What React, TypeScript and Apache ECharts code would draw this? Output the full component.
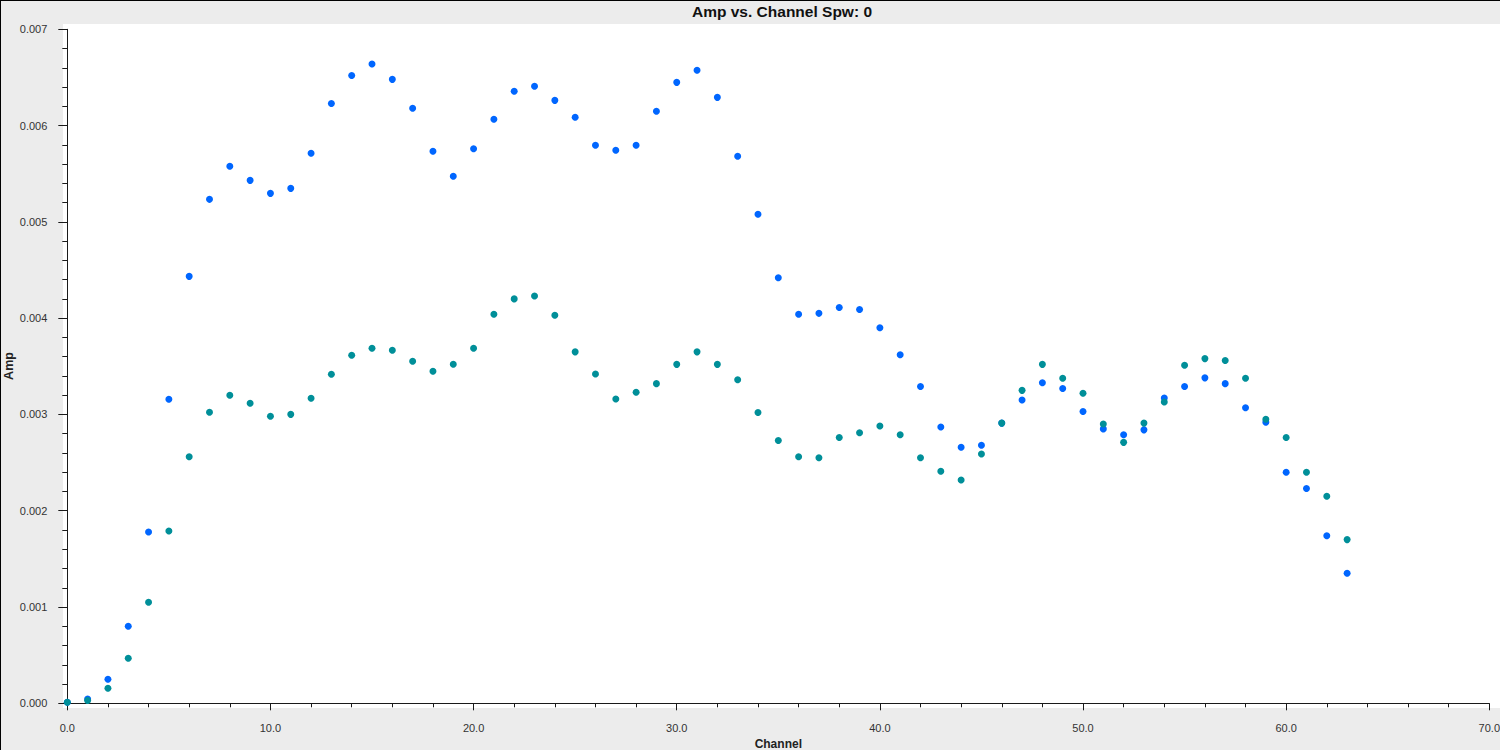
import React, { useEffect, useRef } from "react";
import * as echarts from "echarts";

const channels: number[] = Array.from({ length: 64 }, (_, i) => i);

const ampBlue: number[] = [
  0.00001, 0.000045, 0.000249, 0.0008, 0.001779, 0.003157, 0.004434, 0.005234,
  0.005577, 0.005431, 0.005296, 0.005348, 0.005712, 0.00623, 0.00652, 0.00664,
  0.00648, 0.00618, 0.005733, 0.005473, 0.00576, 0.006065, 0.006356, 0.006408,
  0.006262, 0.006086, 0.005795, 0.005743, 0.005795, 0.006148, 0.006449, 0.006574,
  0.006293, 0.005681, 0.00508, 0.00442, 0.00404, 0.00405, 0.00411, 0.00409,
  0.0039, 0.00362, 0.00329, 0.00287, 0.00266, 0.00268, 0.00291, 0.00315,
  0.00333, 0.00327, 0.00303, 0.00285, 0.00279, 0.00284, 0.00317, 0.00329,
  0.00338, 0.00332, 0.00307, 0.00292, 0.0024, 0.00223, 0.00174, 0.00135,
];

const ampTeal: number[] = [
  0.00001, 0.00003, 0.000156, 0.000467, 0.001049, 0.00179, 0.00256, 0.003022,
  0.003199, 0.003116, 0.002981, 0.003001, 0.003168, 0.003417, 0.003614, 0.003687,
  0.003666, 0.003552, 0.003448, 0.003521, 0.003687, 0.00404, 0.0042, 0.00423,
  0.00403, 0.00365, 0.00342, 0.00316, 0.00323, 0.00332, 0.00352, 0.00365,
  0.00352, 0.00336, 0.00302, 0.00273, 0.00256, 0.00255, 0.00276, 0.00281,
  0.00288, 0.00279, 0.00255, 0.00241, 0.00232, 0.00259, 0.00291, 0.00325,
  0.00352, 0.003375, 0.00322, 0.0029, 0.00271, 0.00291, 0.00313, 0.00351,
  0.00358, 0.00356, 0.003375, 0.00295, 0.00276, 0.0024, 0.00215, 0.0017,
];

const titleText = "Amp vs. Channel Spw: 0";
const xName = "Channel";
const yName = "Amp";

const FONT = "'Liberation Sans', Arial, sans-serif";

export default function App() {
  const ref = useRef<HTMLDivElement>(null);

  useEffect(() => {
    if (!ref.current) return;
    const chart = echarts.init(ref.current, undefined, { renderer: "svg" });
    const axisColor = "#1a1a1a";
    const option: any = {
      animation: false,
      backgroundColor: "#ececec",
      textStyle: { fontFamily: FONT },
      grid: {
        left: 67.3,
        right: 10.7,
        top: 29.3,
        bottom: 46.7,
        containLabel: false,
        outerBoundsMode: "none",
      },
      graphic: [
        {
          type: "rect",
          z: -10,
          silent: true,
          shape: { x: 63, y: 24, width: 1437, height: 684 },
          style: { fill: "#ffffff" },
        },
        {
          type: "line",
          z: 10,
          silent: true,
          shape: { x1: 0, y1: 0.5, x2: 1500, y2: 0.5 },
          style: { stroke: "#000000", lineWidth: 1 },
        },
        {
          type: "line",
          z: 10,
          silent: true,
          shape: { x1: 0.5, y1: 0, x2: 0.5, y2: 750 },
          style: { stroke: "#000000", lineWidth: 1 },
        },
        {
          type: "text",
          z: 10,
          x: 782,
          y: 11,
          style: {
            text: titleText,
            fontFamily: FONT,
            fontWeight: "bold",
            fontSize: 15.5,
            fill: "#111111",
            textAlign: "center",
            textVerticalAlign: "middle",
          },
        },
        {
          type: "text",
          z: 10,
          x: 9,
          y: 366,
          rotation: Math.PI / 2,
          style: {
            text: yName,
            fontFamily: FONT,
            fontWeight: "bold",
            fontSize: 12.5,
            fill: "#222222",
            textAlign: "center",
            textVerticalAlign: "middle",
          },
        },
      ],
      xAxis: {
        type: "value",
        min: 0,
        max: 70,
        interval: 10,
        offset: 7,
        name: xName,
        nameLocation: "middle",
        nameGap: 26,
        nameTextStyle: { fontFamily: FONT, fontWeight: "bold", fontSize: 12, color: "#222" },
        axisLine: { show: true, lineStyle: { color: axisColor, width: 1 } },
        axisTick: { show: true, length: 7, lineStyle: { color: axisColor } },
        minorTick: { show: true, splitNumber: 5, length: 4, lineStyle: { color: axisColor } },
        splitLine: { show: false },
        axisLabel: {
          margin: 12,
          fontSize: 11,
          fontFamily: FONT,
          color: "#333",
          hideOverlap: false,
          formatter: (v: number) => v.toFixed(1),
        },
      },
      yAxis: {
        type: "value",
        min: 0,
        max: 0.007,
        interval: 0.001,
        offset: 6,
        axisLine: { show: true, lineStyle: { color: axisColor, width: 1 } },
        axisTick: { show: true, length: 9, lineStyle: { color: axisColor } },
        minorTick: { show: true, splitNumber: 5, length: 5, lineStyle: { color: axisColor } },
        splitLine: { show: false },
        axisLabel: {
          margin: 14,
          fontSize: 11,
          fontFamily: FONT,
          color: "#333",
          formatter: (v: number) => v.toFixed(3),
        },
      },
      series: [
        {
          type: "scatter",
          name: "blue",
          symbol: "circle",
          symbolSize: 7,
          itemStyle: { color: "#0066ff", opacity: 1 },
          data: channels.map((c, i) => [c, ampBlue[i]]),
          z: 2,
        },
        {
          type: "scatter",
          name: "teal",
          symbol: "circle",
          symbolSize: 7,
          itemStyle: { color: "#008f99", opacity: 1 },
          data: channels.map((c, i) => [c, ampTeal[i]]),
          z: 3,
        },
      ],
    };
    chart.setOption(option);
    return () => chart.dispose();
  }, []);

  return (
    <div
      ref={ref}
      style={{ position: "absolute", left: 0, top: 0, width: 1500, height: 750 }}
    />
  );
}
